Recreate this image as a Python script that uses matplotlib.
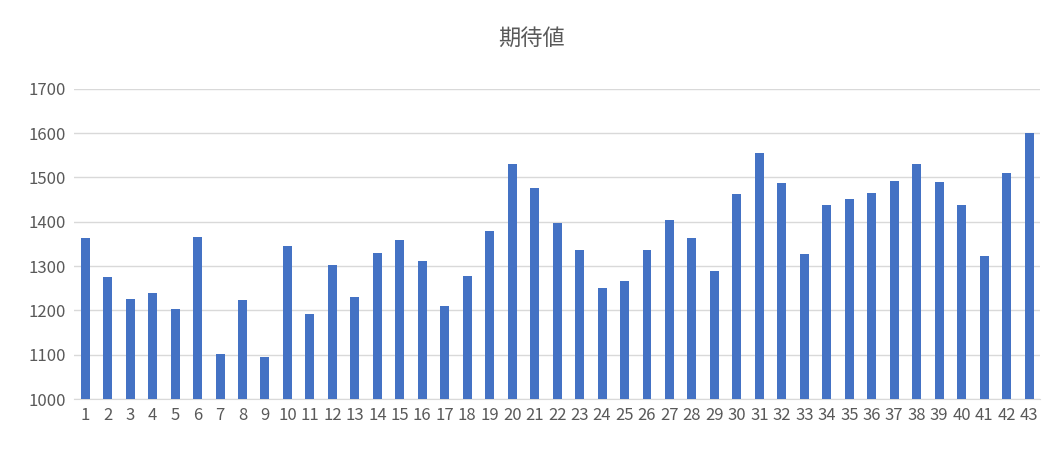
import matplotlib
matplotlib.use("Agg")
import matplotlib.pyplot as plt

plt.rcParams['font.family'] = ['Noto Sans CJK JP', 'DejaVu Sans']

categories = [str(i) for i in range(1, 44)]
values = [1363, 1275, 1226, 1239, 1203, 1366, 1102, 1223, 1095, 1345,
          1192, 1302, 1230, 1330, 1359, 1311, 1210, 1278, 1379, 1530,
          1476, 1397, 1336, 1251, 1266, 1336, 1404, 1363, 1289, 1463,
          1555, 1488, 1327, 1438, 1451, 1465, 1492, 1530, 1490, 1438,
          1323, 1510, 1600]
title = "期待値"

fig = plt.figure(figsize=(10.63, 4.5), dpi=100)
ax = fig.add_axes([0.0696, 0.113, 0.909, 0.69])
x = range(len(categories))
ax.bar(x, values, width=0.4, color='#4472C4', zorder=3)
ax.set_xlim(-0.5, len(categories) - 0.5)
ax.set_ylim(1000, 1700)
ax.set_yticks(range(1000, 1701, 100))
ax.set_xticks(list(x))
ax.set_xticklabels(categories)
ax.grid(axis='y', color='#D9D9D9', linewidth=1, zorder=0)
for s in ['top', 'right', 'left']:
    ax.spines[s].set_visible(False)
ax.spines['bottom'].set_color('#D9D9D9')
ax.tick_params(length=0, labelsize=12, colors='#595959', pad=6)
fig.text(0.5, 0.915, title, ha='center', va='center', fontsize=16, color='#595959')
fig.savefig('out.png')
